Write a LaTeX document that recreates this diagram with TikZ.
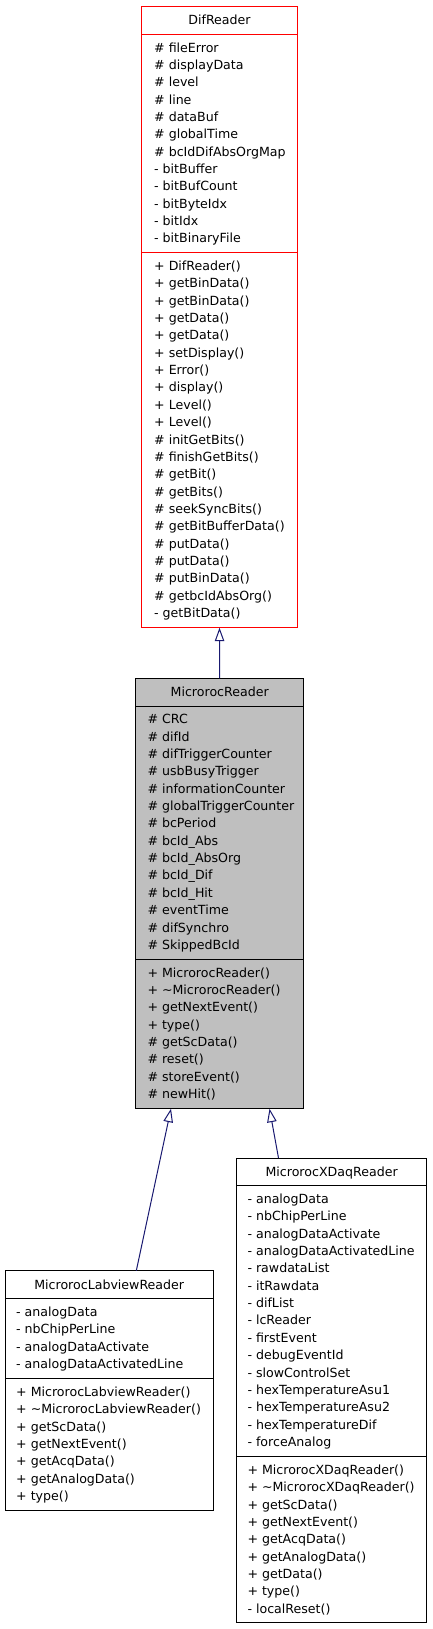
\documentclass[tikz,border=0pt]{standalone}
\usepackage{fontspec}
\setmainfont{DejaVu Sans}
\usetikzlibrary{arrows.meta}
\definecolor{edgeblue}{HTML}{191970}
\definecolor{boxgray}{HTML}{BFBFBF}
\definecolor{boxred}{HTML}{FF0000}
\tikzset{
  clsbox/.style={draw=black, line width=1pt, inner sep=0pt, outer sep=0pt, anchor=north west},
  memtxt/.style={anchor=base west, inner sep=0pt, font=\fontsize{12.6}{15}\selectfont},
  ttltxt/.style={anchor=base, inner sep=0pt, font=\fontsize{12.6}{15}\selectfont},
  sepline/.style={line width=1pt},
  inh/.style={draw=edgeblue, line width=1pt, -{Triangle[open, length=13.5pt, width=9.5pt, fill=white]}},
}
\newcommand\memberlines[4]{%
  \foreach \t [count=\i] in {#4} {\node[memtxt] (#1\i) at (#2, {#3+4.5+(\i-1)*17.35}) {\t};}%
}
\begin{document}
\begin{tikzpicture}[x=1pt,y=-1pt]
\useasboundingbox (0,0) rectangle (432,1629);

% DifReader
\node[clsbox, draw=boxred, minimum width=155.6pt, minimum height=621pt] (dif) at (141.7,6.7) {};
\node[ttltxt] (difT) at (219.5,25) {DifReader};
\draw[sepline, boxred] (141.7,34.3) -- (297.3,34.3);
\draw[sepline, boxred] (141.7,252.7) -- (297.3,252.7);
\memberlines{difA}{154}{47.6}{\# fileError, \# displayData, \# level, \# line, \# dataBuf, \# globalTime, \# bcIdDifAbsOrgMap, - bitBuffer, - bitBufCount, - bitByteIdx, - bitIdx, - bitBinaryFile}
\memberlines{difM}{154}{266}{+ DifReader(), + getBinData(), + getBinData(), + getData(), + getData(), + setDisplay(), + Error(), + display(), + Level(), + Level(), \# initGetBits(), \# finishGetBits(), \# getBit(), \# getBits(), \# seekSyncBits(), \# getBitBufferData(), \# putData(), \# putData(), \# putBinData(), \# getbcIdAbsOrg(), - getBitData()}

% MicrorocReader
\node[clsbox, fill=boxgray, minimum width=168pt, minimum height=430.4pt] (mr) at (135.7,678.3) {};
\node[ttltxt] (mrT) at (219.7,696.8) {MicrorocReader};
\draw[sepline] (135.7,706) -- (303.7,706);
\draw[sepline] (135.7,959.3) -- (303.7,959.3);
\memberlines{mrA}{147.3}{719.3}{\# CRC, \# difId, \# difTriggerCounter, \# usbBusyTrigger, \# informationCounter, \# globalTriggerCounter, \# bcPeriod, \# bcId\_Abs, \# bcId\_AbsOrg, \# bcId\_Dif, \# bcId\_Hit, \# eventTime, \# difSynchro, \# SkippedBcId}
\memberlines{mrM}{147.3}{972.6}{+ MicrorocReader(), + \textasciitilde MicrorocReader(), + getNextEvent(), + type(), \# getScData(), \# reset(), \# storeEvent(), \# newHit()}

% MicrorocLabviewReader
\node[clsbox, minimum width=208.3pt, minimum height=239.6pt] (lv) at (5,1270.7) {};
\node[ttltxt] (lvT) at (109.2,1289.2) {MicrorocLabviewReader};
\draw[sepline] (5,1298.7) -- (213.3,1298.7);
\draw[sepline] (5,1378.7) -- (213.3,1378.7);
\memberlines{lvA}{16}{1312}{- analogData, - nbChipPerLine, - analogDataActivate, - analogDataActivatedLine}
\memberlines{lvM}{16}{1392}{+ MicrorocLabviewReader(), + \textasciitilde MicrorocLabviewReader(), + getScData(), + getNextEvent(), + getAcqData(), + getAnalogData(), + type()}

% MicrorocXDaqReader
\node[clsbox, minimum width=189.8pt, minimum height=464.7pt] (xd) at (236.7,1158) {};
\node[ttltxt] (xdT) at (331.6,1176.5) {MicrorocXDaqReader};
\draw[sepline] (236.7,1185.5) -- (426.5,1185.5);
\draw[sepline] (236.7,1456) -- (426.5,1456);
\memberlines{xdA}{247.3}{1199}{- analogData, - nbChipPerLine, - analogDataActivate, - analogDataActivatedLine, - rawdataList, - itRawdata, - difList, - lcReader, - firstEvent, - debugEventId, - slowControlSet, - hexTemperatureAsu1, - hexTemperatureAsu2, - hexTemperatureDif, - forceAnalog}
\memberlines{xdM}{247.3}{1470}{+ MicrorocXDaqReader(), + \textasciitilde MicrorocXDaqReader(), + getScData(), + getNextEvent(), + getAcqData(), + getAnalogData(), + getData(), + type(), - localReset()}

% connectors
\coordinate (mrTipL) at (171,1108.7);
\coordinate (mrTipR) at (269.5,1108.7);
\coordinate (lvTop) at (136.3,1270.7);
\coordinate (xdTop) at (278.5,1158);
\draw[inh] (mr.north) -- (dif.south);
\draw[inh] (lvTop) -- (mrTipL);
\draw[inh] (xdTop) -- (mrTipR);
\end{tikzpicture}
\end{document}
